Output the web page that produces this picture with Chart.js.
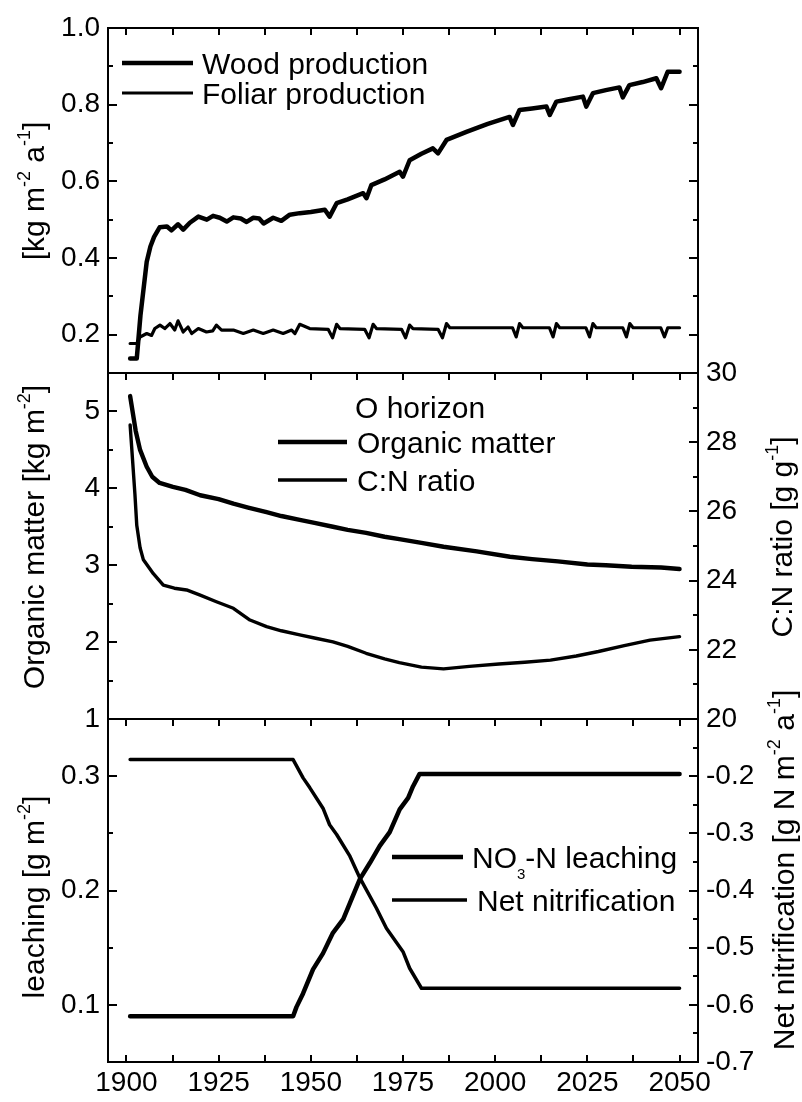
<!DOCTYPE html>
<html>
<head>
<meta charset="utf-8">
<script src="https://cdn.jsdelivr.net/npm/chart.js@4.4.1/dist/chart.umd.min.js"></script>
<style>
  html, body { margin: 0; padding: 0; background: #fff; overflow: hidden; }
  #wrap { position: relative; width: 802px; height: 1102px; }
  #wrap canvas { position: absolute; left: 0; top: 0; }
</style>
</head>
<body>
<div id="wrap">
  <canvas id="top" width="802" height="1102"></canvas>
  <canvas id="mid" width="802" height="1102"></canvas>
  <canvas id="bot" width="802" height="1102"></canvas>
</div>
<script>
// ---- data: [year, value] ----
const woodProduction = [
  [1901, 0.138], [1902.8, 0.138], [1903.8, 0.25], [1905.5, 0.39], [1906.5, 0.43], [1907.5, 0.455],
  [1909, 0.48], [1911, 0.482], [1912.2, 0.472], [1914, 0.488], [1915.4, 0.474], [1917.2, 0.492],
  [1919.5, 0.508], [1921.8, 0.5], [1923.5, 0.51], [1925.3, 0.505], [1927.2, 0.495], [1929, 0.506],
  [1931, 0.503], [1932.6, 0.494], [1934.4, 0.505], [1936, 0.503], [1937.2, 0.49], [1939.8, 0.505],
  [1942, 0.497], [1944.3, 0.513], [1947, 0.517], [1950, 0.52], [1953.8, 0.526], [1955.1, 0.508],
  [1957, 0.543], [1960, 0.553], [1964.2, 0.569], [1965.1, 0.556], [1966.4, 0.59], [1970, 0.605],
  [1974.1, 0.625], [1975, 0.612], [1976.8, 0.655], [1980, 0.672], [1983.1, 0.686], [1984.5, 0.673],
  [1986.8, 0.708], [1992.2, 0.729], [1998, 0.75], [2003.9, 0.768], [2004.8, 0.747], [2006.6, 0.786],
  [2010, 0.79], [2013.9, 0.795], [2014.8, 0.773], [2016.6, 0.808], [2020, 0.814], [2023.8, 0.821],
  [2024.7, 0.795], [2026.5, 0.83], [2030, 0.838], [2033.7, 0.845], [2034.6, 0.819], [2036.4, 0.851],
  [2040, 0.859], [2043.7, 0.869], [2045, 0.843], [2046.8, 0.886], [2050, 0.886]
];
const foliarProduction = [
  [1901, 0.177], [1902.8, 0.177], [1903.7, 0.194], [1905.5, 0.203], [1906.8, 0.198], [1907.7, 0.216],
  [1909.1, 0.225], [1910.4, 0.216], [1911.8, 0.229], [1913.1, 0.212], [1914, 0.236], [1915.4, 0.207],
  [1916.7, 0.22], [1917.7, 0.203], [1919.5, 0.216], [1921.7, 0.207], [1923.4, 0.21], [1924.4, 0.225],
  [1925.8, 0.212], [1929, 0.212], [1931.7, 0.203], [1934.4, 0.212], [1937.1, 0.203], [1939.8, 0.212],
  [1942.5, 0.203], [1944.8, 0.212], [1945.7, 0.203], [1947, 0.227], [1949.7, 0.216], [1954.7, 0.214],
  [1955.9, 0.192], [1957, 0.227], [1957.9, 0.216], [1964.6, 0.214], [1965.8, 0.192], [1966.9, 0.227],
  [1967.8, 0.216], [1974.6, 0.214], [1975.7, 0.192], [1976.8, 0.225], [1977.7, 0.216], [1984.5, 0.214],
  [1985.7, 0.192], [1986.8, 0.229], [1987.7, 0.218], [2004.7, 0.218], [2005.7, 0.194], [2006.6, 0.229],
  [2007.5, 0.218], [2014.7, 0.218], [2015.7, 0.194], [2016.6, 0.229], [2017.5, 0.218], [2024.6, 0.218],
  [2025.6, 0.194], [2026.5, 0.229], [2027.4, 0.218], [2034.6, 0.218], [2035.6, 0.194], [2036.5, 0.229],
  [2037.4, 0.218], [2044.9, 0.218], [2045.9, 0.194], [2046.8, 0.218], [2050, 0.218]
];
const organicMatter = [
  [1901, 5.2], [1901.5, 5.05], [1902.5, 4.75], [1903.7, 4.5], [1905.5, 4.28], [1907, 4.15],
  [1909, 4.07], [1912.6, 4.02], [1916, 3.98], [1920, 3.91], [1925, 3.86], [1929, 3.8],
  [1933, 3.75], [1938, 3.69], [1942, 3.64], [1947, 3.59], [1951, 3.55], [1956, 3.5],
  [1960, 3.46], [1965, 3.42], [1970, 3.37], [1974, 3.34], [1980, 3.29], [1986, 3.24],
  [1995, 3.18], [2004, 3.11], [2010, 3.08], [2017, 3.05], [2025, 3.01], [2030, 3.0],
  [2037, 2.98], [2045, 2.97], [2050, 2.95]
];
const cnRatio = [
  [1901, 28.5], [1902.3, 26.5], [1902.8, 25.6], [1903.7, 24.95], [1904.6, 24.6], [1907.3, 24.2],
  [1910, 23.87], [1913, 23.78], [1916.3, 23.73], [1920, 23.58], [1924.4, 23.39], [1929, 23.2],
  [1933.5, 22.86], [1938, 22.67], [1942, 22.55], [1947, 22.43], [1951, 22.34], [1956, 22.23],
  [1960, 22.1], [1965, 21.9], [1970, 21.74], [1974, 21.63], [1980, 21.5], [1986, 21.45],
  [1993, 21.52], [2001, 21.59], [2008, 21.64], [2015, 21.7], [2022, 21.82], [2028, 21.95],
  [2035, 22.12], [2042, 22.28], [2050, 22.38]
];
const no3Leaching = [
  [1901, 0.09], [1945.2, 0.09], [1946.1, 0.098], [1947.9, 0.11], [1950.6, 0.131], [1953.3, 0.145],
  [1956, 0.163], [1958.8, 0.175], [1960.6, 0.189], [1963.3, 0.21], [1966, 0.224], [1968.7, 0.239],
  [1971.4, 0.251], [1974.1, 0.271], [1976.4, 0.281], [1977.7, 0.291], [1979.5, 0.302], [2050, 0.302]
];
const netNitrification = [
  [1901, -0.171], [1945.2, -0.171], [1947.9, -0.203], [1949.7, -0.22], [1953.3, -0.256], [1955.1, -0.285],
  [1957, -0.302], [1960.6, -0.34], [1963.3, -0.378], [1967.8, -0.431], [1970.5, -0.466], [1975, -0.507],
  [1976.8, -0.536], [1980, -0.571], [2050, -0.571]
];

// ---- tick values ----
const yearLabels = [1900, 1925, 1950, 1975, 2000, 2025, 2050];
const yearMinor = [1912.5, 1937.5, 1962.5, 1987.5, 2012.5, 2037.5];
const prodTicks = [0.2, 0.4, 0.6, 0.8, 1.0];
const prodMinor = [0.3, 0.5, 0.7, 0.9];
const omTicks = [1, 2, 3, 4, 5];
const omMinor = [1.5, 2.5, 3.5, 4.5];
const cnTicks = [20, 22, 24, 26, 28, 30];
const cnMinor = [21, 23, 25, 27, 29];
const leachTicks = [0.1, 0.2, 0.3];
const leachMinor = [0.15, 0.25];
const nitrTicks = [-0.7, -0.6, -0.5, -0.4, -0.3, -0.2];
const nitrMinor = [-0.65, -0.55, -0.45, -0.35, -0.25, -0.15];

const FONT = "'Liberation Sans', Arial, Helvetica, sans-serif";
Chart.defaults.font.family = FONT;
Chart.defaults.color = '#000';

const pts = arr => arr.map(([x, y]) => ({x, y}));
const merged = (a, b) => a.concat(b).sort((p, q) => p - q);

function xAxis(pos, height, withLabels) {
  return {
    type: 'linear', position: pos, min: 1895, max: 2055,
    afterBuildTicks: s => { s.ticks = merged(yearLabels, yearMinor).map(v => ({value: v})); },
    afterFit: s => { s.height = height; s.paddingLeft = 0; s.paddingRight = 0; },
    grid: {drawOnChartArea: false, drawTicks: false},
    border: {display: true, width: 2, color: '#000'},
    ticks: withLabels
      ? {display: true, padding: 4, autoSkip: false, maxRotation: 0, minRotation: 0,
         font: {size: 28}, color: '#000', callback: v => yearLabels.includes(v) ? String(v) : ''}
      : {display: false}
  };
}

function yAxis(pos, min, max, major, minor, fmt, width) {
  return {
    type: 'linear', position: pos, min, max,
    afterBuildTicks: s => { s.ticks = merged(major, minor).map(v => ({value: v})); },
    afterFit: s => { s.width = width; s.paddingTop = 0; s.paddingBottom = 0; },
    grid: {drawOnChartArea: false, drawTicks: false},
    border: {display: true, width: 2, color: '#000'},
    ticks: fmt
      ? {display: true, padding: 8, autoSkip: false, font: {size: 28}, color: '#000',
         callback: v => major.includes(v) ? fmt(v) : ''}
      : {display: false}
  };
}

// inward tick marks, taken from each scale's own ticks
function drawInwardTicks(chart, majors) {
  const ctx = chart.ctx;
  const area = chart.chartArea;
  ctx.save();
  ctx.strokeStyle = '#000';
  ctx.lineWidth = 2;
  ctx.lineCap = 'butt';
  Object.keys(chart.scales).forEach(id => {
    const s = chart.scales[id];
    const major = majors[id];
    s.ticks.forEach(t => {
      const p = Math.round(s.getPixelForValue(t.value));
      ctx.beginPath();
      if (s.isHorizontal()) {
        const y0 = s.position === 'top' ? area.top : area.bottom;
        const dir = s.position === 'top' ? 1 : -1;
        ctx.moveTo(p, y0);
        ctx.lineTo(p, y0 + dir * 7);
      } else {
        const len = major && major.includes(t.value) ? 9 : 5;
        const x0 = s.position === 'left' ? area.left : area.right;
        const dir = s.position === 'left' ? 1 : -1;
        ctx.moveTo(x0, p);
        ctx.lineTo(x0 + dir * len, p);
      }
      ctx.stroke();
    });
  });
  ctx.restore();
}

// rich text: parts are strings or [text, 'sup' | 'sub']; y is the cap-height centre
function drawRich(ctx, parts, size, x, y, align) {
  const segs = parts.map(p => typeof p === 'string' ? {t: p, k: ''} : {t: p[0], k: p[1]});
  let total = 0;
  segs.forEach(s => {
    s.fs = s.k === 'sup' ? size * 0.6 : s.k === 'sub' ? size * 0.5 : size;
    ctx.font = s.fs + 'px ' + FONT;
    s.w = ctx.measureText(s.t).width;
    total += s.w;
  });
  let cx = align === 'center' ? x - total / 2 : align === 'right' ? x - total : x;
  const base = y + size * 0.358;
  ctx.textAlign = 'left';
  ctx.textBaseline = 'alphabetic';
  ctx.fillStyle = '#000';
  segs.forEach(s => {
    ctx.font = s.fs + 'px ' + FONT;
    const dy = s.k === 'sup' ? -size * 0.45 : s.k === 'sub' ? size * 0.39 : 0;
    ctx.fillText(s.t, cx, base + dy);
    cx += s.w;
  });
}

function drawDecor(chart, cfg) {
  const ctx = chart.ctx;
  drawInwardTicks(chart, cfg.majors);
  ctx.save();
  (cfg.titles || []).forEach(t => {
    ctx.save();
    ctx.translate(t.x, t.y);
    ctx.rotate(-Math.PI / 2);
    drawRich(ctx, t.text, 30, 0, 0, 'center');
    ctx.restore();
  });
  (cfg.legend || []).forEach(e => {
    if (e.ds !== undefined) {
      const ds = chart.data.datasets[e.ds];
      ctx.strokeStyle = ds.borderColor;
      ctx.lineWidth = ds.borderWidth;
      ctx.lineCap = 'butt';
      ctx.beginPath();
      ctx.moveTo(e.x1, e.y);
      ctx.lineTo(e.x2, e.y);
      ctx.stroke();
    }
    drawRich(ctx, e.text, 30, e.tx, e.y, 'left');
  });
  ctx.restore();
}

function makePanel(id, cfg) {
  return new Chart(document.getElementById(id), {
    type: 'line',
    data: {datasets: cfg.datasets},
    options: {
      responsive: false,
      animation: false,
      events: [],
      layout: {autoPadding: false, padding: cfg.padding},
      plugins: {legend: {display: false}, tooltip: {enabled: false}},
      elements: {
        point: {radius: 0},
        line: {tension: 0, borderJoinStyle: 'round', borderCapStyle: 'round', fill: false}
      },
      scales: cfg.scales
    },
    plugins: [{id: 'panelDecor', afterDraw: chart => drawDecor(chart, cfg)}]
  });
}

const line = (label, data, width, yAxisID) => ({
  label, data: pts(data), borderColor: '#000', backgroundColor: '#000',
  borderWidth: width, xAxisID: 'x', yAxisID
});

// top: production
makePanel('top', {
  padding: {top: 28, bottom: 729, left: 0, right: 0},
  datasets: [
    line('Wood production', woodProduction, 4.5, 'y'),
    line('Foliar production', foliarProduction, 3.2, 'y')
  ],
  scales: {
    x: xAxis('top', 0, false),
    y: yAxis('left', 0.1, 1.0, prodTicks, prodMinor, v => v.toFixed(1), 108),
    yR: yAxis('right', 0.1, 1.0, prodTicks, prodMinor, null, 104)
  },
  majors: {y: prodTicks, yR: prodTicks},
  titles: [{x: 33, y: 191, text: ['[kg m', ['-2', 'sup'], ' a', ['-1', 'sup'], ']']}],
  legend: [
    {ds: 0, x1: 122, x2: 193, y: 63, tx: 202, text: ['Wood production']},
    {ds: 1, x1: 122, x2: 193, y: 93, tx: 202, text: ['Foliar production']}
  ]
});

// middle: O horizon
makePanel('mid', {
  padding: {top: 373, bottom: 383, left: 0, right: 0},
  datasets: [
    line('Organic matter', organicMatter, 4.4, 'y'),
    line('C:N ratio', cnRatio, 3.4, 'yR')
  ],
  scales: {
    x: xAxis('top', 0, false),
    y: yAxis('left', 1, 5.5, omTicks, omMinor, v => String(v), 108),
    yR: yAxis('right', 20, 30, cnTicks, cnMinor, v => String(v), 104)
  },
  majors: {y: omTicks, yR: cnTicks},
  titles: [
    {x: 33, y: 537, text: ['Organic matter [kg m', ['-2', 'sup'], ']']},
    {x: 781, y: 537, text: ['C:N ratio [g g', ['-1', 'sup'], ']']}
  ],
  legend: [
    {y: 407, tx: 355, text: ['O horizon']},
    {ds: 0, x1: 278, x2: 347, y: 442, tx: 357, text: ['Organic matter']},
    {ds: 1, x1: 278, x2: 347, y: 480, tx: 357, text: ['C:N ratio']}
  ]
});

// bottom: nitrogen
makePanel('bot', {
  padding: {top: 719, bottom: 0, left: 0, right: 0},
  datasets: [
    line('NO3-N leaching', no3Leaching, 4.5, 'y'),
    line('Net nitrification', netNitrification, 3.5, 'yR')
  ],
  scales: {
    xTop: xAxis('top', 0, false),
    x: xAxis('bottom', 40, true),
    y: yAxis('left', 0.05, 0.35, leachTicks, leachMinor, v => v.toFixed(1), 108),
    yR: yAxis('right', -0.7, -0.1, nitrTicks, nitrMinor, v => v.toFixed(1), 104)
  },
  majors: {y: leachTicks, yR: nitrTicks},
  titles: [
    {x: 33, y: 897, text: ['leaching [g m', ['-2', 'sup'], ']']},
    {x: 783, y: 870, text: ['Net nitrification [g N m', ['-2', 'sup'], ' a', ['-1', 'sup'], ']']}
  ],
  legend: [
    {ds: 0, x1: 392, x2: 463, y: 857, tx: 472, text: ['NO', ['3', 'sub'], '-N leaching']},
    {ds: 1, x1: 392, x2: 467, y: 900, tx: 477, text: ['Net nitrification']}
  ]
});
</script>
</body>
</html>
